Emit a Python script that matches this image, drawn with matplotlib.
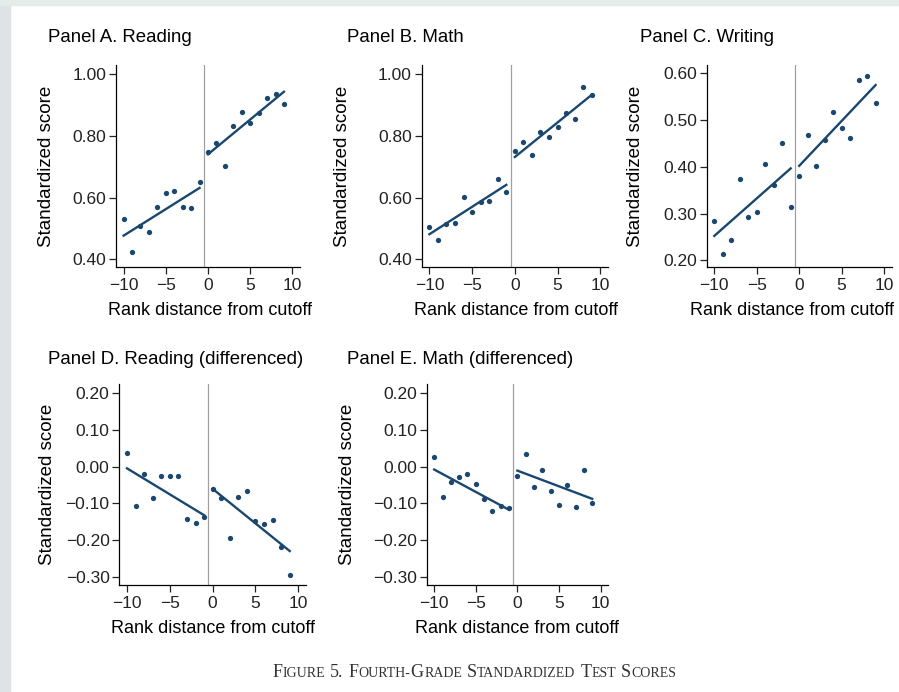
import numpy as np
import matplotlib
matplotlib.use('Agg')
import matplotlib.pyplot as plt
from matplotlib.patches import Rectangle

plt.rcParams['font.family'] = ['Liberation Sans', 'DejaVu Sans']

# rank distance from cutoff
rank = np.arange(-10, 10)

# bin means
reading = [0.532, 0.422, 0.507, 0.487, 0.569, 0.614, 0.622, 0.569, 0.565, 0.651,
           0.747, 0.776, 0.701, 0.833, 0.878, 0.841, 0.875, 0.923, 0.936, 0.902]
math = [0.506, 0.462, 0.515, 0.517, 0.603, 0.553, 0.585, 0.590, 0.661, 0.618,
        0.751, 0.779, 0.737, 0.811, 0.796, 0.827, 0.872, 0.853, 0.959, 0.933]
writing = [0.284, 0.214, 0.243, 0.374, 0.292, 0.303, 0.406, 0.362, 0.451, 0.315,
           0.381, 0.467, 0.402, 0.458, 0.516, 0.482, 0.461, 0.584, 0.594, 0.535]
reading_diff = [0.037, -0.106, -0.019, -0.085, -0.026, -0.026, -0.026, -0.141, -0.153, -0.137,
                -0.061, -0.084, -0.193, -0.082, -0.067, -0.148, -0.155, -0.144, -0.217, -0.295]
math_diff = [0.025, -0.083, -0.043, -0.027, -0.021, -0.047, -0.089, -0.121, -0.107, -0.112,
             -0.025, 0.033, -0.054, -0.008, -0.066, -0.103, -0.051, -0.109, -0.008, -0.100]

titles = ['Panel A. Reading', 'Panel B. Math', 'Panel C. Writing',
          'Panel D. Reading (differenced)', 'Panel E. Math (differenced)']
series = [reading, math, writing, reading_diff, math_diff]
yticks = [[0.4, 0.6, 0.8, 1.0], [0.4, 0.6, 0.8, 1.0], [0.2, 0.3, 0.4, 0.5, 0.6],
          [-0.3, -0.2, -0.1, 0.0, 0.1, 0.2], [-0.3, -0.2, -0.1, 0.0, 0.1, 0.2]]
ylims = [(0.375, 1.029), (0.375, 1.029), (0.186, 0.617), (-0.321, 0.224), (-0.321, 0.224)]
xticks = [-10, -5, 0, 5, 10]

W, H = 899, 692
# axes boxes in pixels: left, right, top, bottom
boxes = [(116, 300, 65, 267), (421.7, 608, 65, 267), (706.7, 891.7, 65, 267),
         (119.3, 306, 384, 585), (426.7, 608, 384, 585)]
title_pos = [(48, 38), (347, 38), (640, 38), (48, 359), (347, 359)]
ylab_x = [55, 351, 644, 56, 356]
xlab_x = [210, 516, 792, 213, 517]

navy = '#1a476f'

fig = plt.figure(figsize=(W / 100, H / 100), dpi=100)
fig.patches.append(Rectangle((0, 0), 10 / W, 1, transform=fig.transFigure,
                             color='#dfe3e6', zorder=-1))
fig.patches.append(Rectangle((0, 1 - 5 / H), 1, 5 / H, transform=fig.transFigure,
                             color='#e4ecea', zorder=-1))

for i, y in enumerate(series):
    l, r, t, b = boxes[i]
    ax = fig.add_axes([l / W, 1 - b / H, (r - l) / W, (b - t) / H])
    y = np.array(y)
    ax.axvline(-0.5, color='#a0a0a0', lw=0.9, zorder=1)
    for side in (rank < 0, rank >= 0):
        c = np.polyfit(rank[side], y[side], 1)
        xs = rank[side][[0, -1]]
        ax.plot(xs, np.polyval(c, xs), color=navy, lw=1.7, zorder=2)
    ax.plot(rank, y, 'o', color=navy, ms=3.8, mec='none', zorder=3)
    ax.set_xlim(-10.9, 10.9)
    ax.set_ylim(*ylims[i])
    ax.set_xticks(xticks)
    ax.set_yticks(yticks[i])
    ax.set_yticklabels(['%.2f' % v if v >= 0 else '\u2212%.2f' % -v for v in yticks[i]])
    ax.set_xticklabels(['%d' % v if v >= 0 else '\u2212%d' % -v for v in xticks])
    for s in ('top', 'right'):
        ax.spines[s].set_visible(False)
    ax.spines['left'].set_linewidth(0.9)
    ax.spines['bottom'].set_linewidth(0.9)
    ax.tick_params(direction='out', length=5, width=0.9, labelsize=12.5,
                   colors='#222222', pad=2)
    ax.tick_params(axis='x', pad=3)
    ax.set_xlabel('Rank distance from cutoff', fontsize=13)
    ax.xaxis.set_label_coords((xlab_x[i] - l) / (r - l), -0.175)
    ax.set_ylabel('Standardized score', fontsize=13.5)
    ax.yaxis.set_label_coords((ylab_x[i] - l) / (r - l), 0.5)
    fig.text(title_pos[i][0] / W, 1 - title_pos[i][1] / H, titles[i],
             fontsize=13.4, va='center', ha='left')

# caption in small caps
big, small = 13, 10
pieces = [('F', big), ('IGURE', small), (' ', big), ('5.', big), (' ', big),
          ('F', big), ('OURTH-', small), ('G', big), ('RADE', small), (' ', big),
          ('S', big), ('TANDARDIZED', small), (' ', big), ('T', big), ('EST', small),
          (' ', big), ('S', big), ('CORES', small)]
fig.canvas.draw()
rend = fig.canvas.get_renderer()
widths = []
for txt, sz in pieces:
    if txt == ' ':
        widths.append(sz * 0.25 * 100 / 72)
    else:
        tt = fig.text(0, 0, txt, fontsize=sz, family='Liberation Serif')
        widths.append(tt.get_window_extent(rend).width + 0.3)
        tt.remove()
x = 474.5 - sum(widths) / 2
for (txt, sz), w in zip(pieces, widths):
    if txt != ' ':
        fig.text(x / W, 1 - 677 / H, txt, fontsize=sz, family='Liberation Serif',
                 color='#333333', va='baseline', ha='left')
    x += w

fig.savefig('out.png', dpi=100)
